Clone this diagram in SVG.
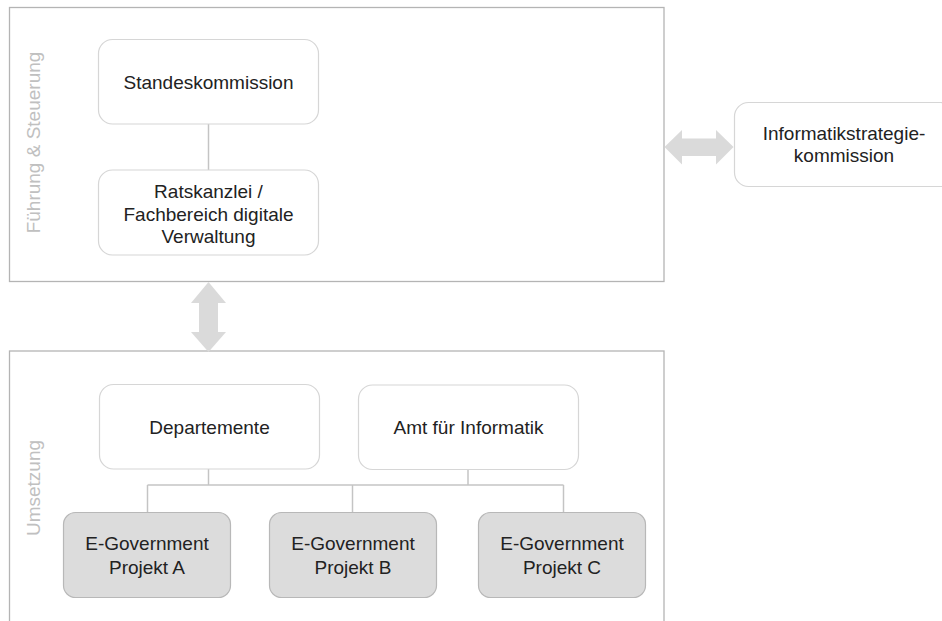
<svg xmlns="http://www.w3.org/2000/svg" width="942" height="621" viewBox="0 0 942 621">
<style>
.frame{fill:#fff;stroke:#b4b4b4;stroke-width:1.3}
.box{fill:#fff;stroke:#d6d6d6;stroke-width:1.2}
.proj{fill:#dcdcdc;stroke:#b8b8b8;stroke-width:1.2}
.conn{fill:none;stroke:#c4c4c4;stroke-width:1.5}
.arrow{fill:#dadada;stroke:none}
.t{font-family:"Liberation Sans",Arial,sans-serif;font-size:19px;fill:#222;text-anchor:middle}
.side{font-family:"Liberation Sans",Arial,sans-serif;font-size:19px;fill:#c0c0c0;text-anchor:middle}
</style>
<rect width="942" height="621" fill="#fff"/>
<g id="frame-top">
<rect class="frame" x="9.5" y="7.5" width="654.5" height="274"/>
<text class="side" transform="translate(40,142.5) rotate(-90)">Führung &amp; Steuerung</text>
</g>
<g id="frame-bottom">
<rect class="frame" x="9.5" y="351" width="654.5" height="290"/>
<text class="side" transform="translate(40,488) rotate(-90)">Umsetzung</text>
</g>
<g id="connectors">
<line class="conn" x1="208.5" y1="124" x2="208.5" y2="170"/>
<polyline class="conn" points="208.5,469 208.5,485"/>
<polyline class="conn" points="468,469 468,485"/>
<line class="conn" x1="147.5" y1="485" x2="563.5" y2="485"/>
<line class="conn" x1="147.5" y1="485" x2="147.5" y2="512"/>
<line class="conn" x1="352.5" y1="485" x2="352.5" y2="512"/>
<line class="conn" x1="563.5" y1="485" x2="563.5" y2="512"/>
<polygon id="arrow-v" class="arrow" points="208.5,282 226,303 218,303 218,332 226,332 208.5,352 191,332 199,332 199,303 191,303"/>
<polygon id="arrow-h" class="arrow" points="664.5,147 682,130 682,138.5 716,138.5 716,130 733.5,147 716,164.5 716,156 682,156 682,164.5"/>
</g>
<g id="standeskommission">
<rect class="box" x="98.5" y="39.5" width="220" height="84.5" rx="14"/>
<text class="t" x="208.5" y="89">Standeskommission</text>
</g>
<g id="ratskanzlei">
<rect class="box" x="98.5" y="170" width="220" height="85" rx="14"/>
<text class="t" x="208.5" y="198">Ratskanzlei /</text>
<text class="t" x="208.5" y="220.5">Fachbereich digitale</text>
<text class="t" x="208.5" y="243">Verwaltung</text>
</g>
<g id="informatikstrategiekommission">
<rect class="box" x="734.5" y="102.5" width="220" height="84" rx="14"/>
<text class="t" x="844" y="140">Informatikstrategie-</text>
<text class="t" x="844" y="162">kommission</text>
</g>
<g id="departemente">
<rect class="box" x="99.5" y="384.5" width="220" height="84.5" rx="14"/>
<text class="t" x="209.5" y="434">Departemente</text>
</g>
<g id="amt-fuer-informatik">
<rect class="box" x="358.5" y="385" width="220" height="84.5" rx="14"/>
<text class="t" x="468.5" y="434">Amt für Informatik</text>
</g>
<g id="projekt-a">
<rect class="proj" x="63.5" y="512.5" width="167" height="85" rx="12"/>
<text class="t" x="147" y="549.5">E-Government</text>
<text class="t" x="147" y="573.5">Projekt A</text>
</g>
<g id="projekt-b">
<rect class="proj" x="269.5" y="512.5" width="167" height="85" rx="12"/>
<text class="t" x="353" y="549.5">E-Government</text>
<text class="t" x="353" y="573.5">Projekt B</text>
</g>
<g id="projekt-c">
<rect class="proj" x="478.5" y="512.5" width="167" height="85" rx="12"/>
<text class="t" x="562" y="549.5">E-Government</text>
<text class="t" x="562" y="573.5">Projekt C</text>
</g>
</svg>
